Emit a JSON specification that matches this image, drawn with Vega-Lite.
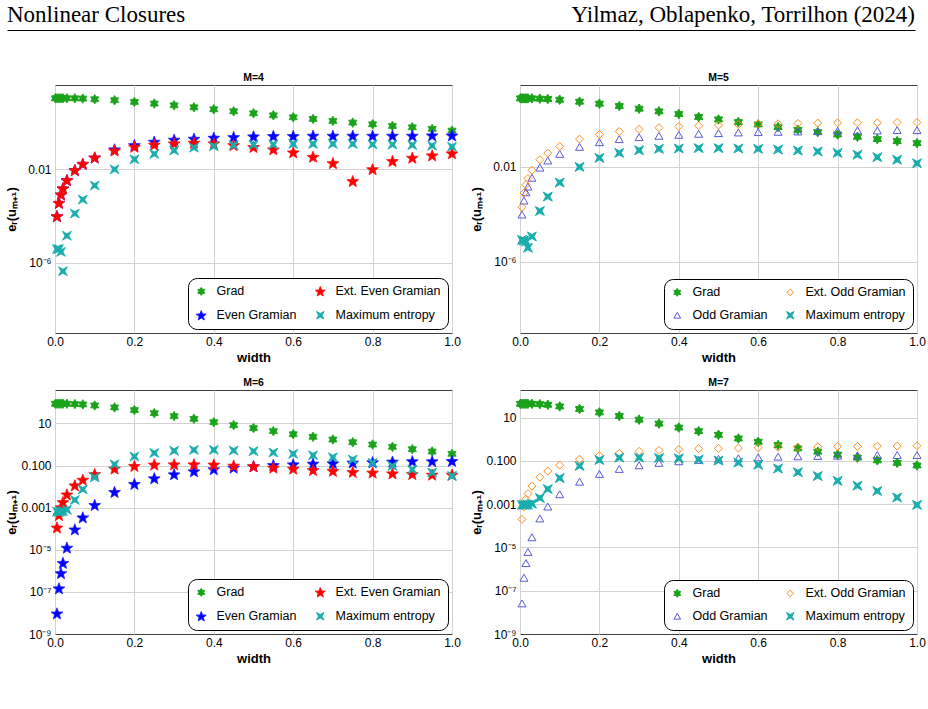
{
"$schema":"https://vega.github.io/schema/vega-lite/v6.json",
"padding":{"left":4,"top":4,"right":4,"bottom":4},
"config":{
 "font":"Liberation Sans",
 "view":{"stroke":"#404040","strokeWidth":1},
 "axis":{"labelFontSize":12,"labelColor":"black","titleFontWeight":"bold","titleFontSize":13,"titleColor":"black","domain":false,"gridColor":"#d2d2d2","ticks":false,"labelFlush":false,"labelOverlap":false},
 "title":{"fontSize":10.5,"fontWeight":"bold","color":"black","offset":2},
 "legend":{"orient":"bottom-right","direction":"horizontal","columns":2,"offset":4,"strokeColor":"black","cornerRadius":9,"padding":7,"fillColor":"white","rowPadding":10,"columnPadding":16,"labelFontSize":12.5,"labelColor":"black","symbolSize":45,"labelOffset":9,"symbolStrokeWidth":1}
},
"datasets":{
"m4":[
{"method":"Grad","w":0.001,"e":11.0},{"method":"Grad","w":0.005,"e":11.0},{"method":"Grad","w":0.01,"e":11.0},{"method":"Grad","w":0.015,"e":11.0},{"method":"Grad","w":0.02,"e":11.0},{"method":"Grad","w":0.03,"e":11.0},{"method":"Grad","w":0.05,"e":11.0},{"method":"Grad","w":0.07,"e":10.7},{"method":"Grad","w":0.1,"e":10.0},{"method":"Grad","w":0.15,"e":9.06},{"method":"Grad","w":0.2,"e":7.69},{"method":"Grad","w":0.25,"e":6.52},{"method":"Grad","w":0.3,"e":5.53},{"method":"Grad","w":0.35,"e":4.54},{"method":"Grad","w":0.4,"e":3.72},{"method":"Grad","w":0.45,"e":3.06},{"method":"Grad","w":0.5,"e":2.51},{"method":"Grad","w":0.55,"e":2.06},{"method":"Grad","w":0.6,"e":1.69},{"method":"Grad","w":0.65,"e":1.44},{"method":"Grad","w":0.7,"e":1.18},{"method":"Grad","w":0.75,"e":1.0},{"method":"Grad","w":0.8,"e":0.849},{"method":"Grad","w":0.85,"e":0.72},{"method":"Grad","w":0.9,"e":0.631},{"method":"Grad","w":0.95,"e":0.536},{"method":"Grad","w":1.0,"e":0.454},
{"method":"Even Gramian","w":0.005,"e":1.0e-4},{"method":"Even Gramian","w":0.01,"e":3.72e-4},{"method":"Even Gramian","w":0.015,"e":8.5e-4},{"method":"Even Gramian","w":0.02,"e":1.55e-3},{"method":"Even Gramian","w":0.03,"e":3.47e-3},{"method":"Even Gramian","w":0.05,"e":9.33e-3},{"method":"Even Gramian","w":0.07,"e":0.0174},{"method":"Even Gramian","w":0.1,"e":0.0324},{"method":"Even Gramian","w":0.15,"e":0.0719},{"method":"Even Gramian","w":0.2,"e":0.110},{"method":"Even Gramian","w":0.25,"e":0.153},{"method":"Even Gramian","w":0.3,"e":0.187},{"method":"Even Gramian","w":0.35,"e":0.206},{"method":"Even Gramian","w":0.4,"e":0.228},{"method":"Even Gramian","w":0.45,"e":0.243},{"method":"Even Gramian","w":0.5,"e":0.259},{"method":"Even Gramian","w":0.55,"e":0.269},{"method":"Even Gramian","w":0.6,"e":0.269},{"method":"Even Gramian","w":0.65,"e":0.277},{"method":"Even Gramian","w":0.7,"e":0.277},{"method":"Even Gramian","w":0.75,"e":0.277},{"method":"Even Gramian","w":0.8,"e":0.277},{"method":"Even Gramian","w":0.85,"e":0.277},{"method":"Even Gramian","w":0.9,"e":0.277},{"method":"Even Gramian","w":0.95,"e":0.286},{"method":"Even Gramian","w":1.0,"e":0.286},
{"method":"Ext. Even Gramian","w":0.005,"e":1.0e-4},{"method":"Ext. Even Gramian","w":0.01,"e":3.72e-4},{"method":"Ext. Even Gramian","w":0.015,"e":8.5e-4},{"method":"Ext. Even Gramian","w":0.02,"e":1.55e-3},{"method":"Ext. Even Gramian","w":0.03,"e":3.47e-3},{"method":"Ext. Even Gramian","w":0.05,"e":9.33e-3},{"method":"Ext. Even Gramian","w":0.07,"e":0.0174},{"method":"Ext. Even Gramian","w":0.1,"e":0.0324},{"method":"Ext. Even Gramian","w":0.15,"e":0.0646},{"method":"Ext. Even Gramian","w":0.2,"e":0.0933},{"method":"Ext. Even Gramian","w":0.25,"e":0.115},{"method":"Ext. Even Gramian","w":0.3,"e":0.130},{"method":"Ext. Even Gramian","w":0.35,"e":0.139},{"method":"Ext. Even Gramian","w":0.4,"e":0.130},{"method":"Ext. Even Gramian","w":0.45,"e":0.110},{"method":"Ext. Even Gramian","w":0.5,"e":0.0912},{"method":"Ext. Even Gramian","w":0.55,"e":0.0724},{"method":"Ext. Even Gramian","w":0.6,"e":0.0537},{"method":"Ext. Even Gramian","w":0.65,"e":0.0347},{"method":"Ext. Even Gramian","w":0.7,"e":0.0186},{"method":"Ext. Even Gramian","w":0.75,"e":0.00316},{"method":"Ext. Even Gramian","w":0.8,"e":0.0102},{"method":"Ext. Even Gramian","w":0.85,"e":0.0229},{"method":"Ext. Even Gramian","w":0.9,"e":0.0316},{"method":"Ext. Even Gramian","w":0.95,"e":0.0398},{"method":"Ext. Even Gramian","w":1.0,"e":0.049},
{"method":"Maximum entropy","w":0.005,"e":3.9e-6},{"method":"Maximum entropy","w":0.01,"e":3.9e-6},{"method":"Maximum entropy","w":0.015,"e":2.95e-6},{"method":"Maximum entropy","w":0.02,"e":4.4e-7},{"method":"Maximum entropy","w":0.03,"e":1.45e-5},{"method":"Maximum entropy","w":0.05,"e":1.29e-4},{"method":"Maximum entropy","w":0.07,"e":5.1e-4},{"method":"Maximum entropy","w":0.1,"e":2.04e-3},{"method":"Maximum entropy","w":0.15,"e":0.01},{"method":"Maximum entropy","w":0.2,"e":0.0269},{"method":"Maximum entropy","w":0.25,"e":0.0457},{"method":"Maximum entropy","w":0.3,"e":0.0646},{"method":"Maximum entropy","w":0.35,"e":0.0851},{"method":"Maximum entropy","w":0.4,"e":0.0977},{"method":"Maximum entropy","w":0.45,"e":0.107},{"method":"Maximum entropy","w":0.5,"e":0.115},{"method":"Maximum entropy","w":0.55,"e":0.117},{"method":"Maximum entropy","w":0.6,"e":0.123},{"method":"Maximum entropy","w":0.65,"e":0.123},{"method":"Maximum entropy","w":0.7,"e":0.123},{"method":"Maximum entropy","w":0.75,"e":0.123},{"method":"Maximum entropy","w":0.8,"e":0.117},{"method":"Maximum entropy","w":0.85,"e":0.115},{"method":"Maximum entropy","w":0.9,"e":0.110},{"method":"Maximum entropy","w":0.95,"e":0.103},{"method":"Maximum entropy","w":1.0,"e":0.0933}
],
"m5":[
{"method":"Grad","w":0.001,"e":7.71},{"method":"Grad","w":0.005,"e":7.71},{"method":"Grad","w":0.01,"e":7.71},{"method":"Grad","w":0.015,"e":7.71},{"method":"Grad","w":0.02,"e":7.71},{"method":"Grad","w":0.03,"e":7.71},{"method":"Grad","w":0.05,"e":7.46},{"method":"Grad","w":0.07,"e":7.24},{"method":"Grad","w":0.1,"e":6.76},{"method":"Grad","w":0.15,"e":5.57},{"method":"Grad","w":0.2,"e":4.59},{"method":"Grad","w":0.25,"e":3.66},{"method":"Grad","w":0.3,"e":2.82},{"method":"Grad","w":0.35,"e":2.18},{"method":"Grad","w":0.4,"e":1.68},{"method":"Grad","w":0.45,"e":1.26},{"method":"Grad","w":0.5,"e":1.0},{"method":"Grad","w":0.55,"e":0.771},{"method":"Grad","w":0.6,"e":0.615},{"method":"Grad","w":0.65,"e":0.474},{"method":"Grad","w":0.7,"e":0.366},{"method":"Grad","w":0.75,"e":0.292},{"method":"Grad","w":0.8,"e":0.232},{"method":"Grad","w":0.85,"e":0.185},{"method":"Grad","w":0.9,"e":0.148},{"method":"Grad","w":0.95,"e":0.122},{"method":"Grad","w":1.0,"e":0.1},
{"method":"Odd Gramian","w":0.005,"e":9.8e-5},{"method":"Odd Gramian","w":0.01,"e":3.8e-4},{"method":"Odd Gramian","w":0.015,"e":8.5e-4},{"method":"Odd Gramian","w":0.02,"e":1.48e-3},{"method":"Odd Gramian","w":0.03,"e":3.47e-3},{"method":"Odd Gramian","w":0.05,"e":9.33e-3},{"method":"Odd Gramian","w":0.07,"e":0.0186},{"method":"Odd Gramian","w":0.1,"e":0.0355},{"method":"Odd Gramian","w":0.15,"e":0.07},{"method":"Odd Gramian","w":0.2,"e":0.110},{"method":"Odd Gramian","w":0.25,"e":0.148},{"method":"Odd Gramian","w":0.3,"e":0.179},{"method":"Odd Gramian","w":0.35,"e":0.204},{"method":"Odd Gramian","w":0.4,"e":0.225},{"method":"Odd Gramian","w":0.45,"e":0.248},{"method":"Odd Gramian","w":0.5,"e":0.265},{"method":"Odd Gramian","w":0.55,"e":0.282},{"method":"Odd Gramian","w":0.6,"e":0.292},{"method":"Odd Gramian","w":0.65,"e":0.301},{"method":"Odd Gramian","w":0.7,"e":0.311},{"method":"Odd Gramian","w":0.75,"e":0.321},{"method":"Odd Gramian","w":0.8,"e":0.332},{"method":"Odd Gramian","w":0.85,"e":0.343},{"method":"Odd Gramian","w":0.9,"e":0.343},{"method":"Odd Gramian","w":0.95,"e":0.354},{"method":"Odd Gramian","w":1.0,"e":0.354},
{"method":"Ext. Odd Gramian","w":0.005,"e":2.0e-4},{"method":"Ext. Odd Gramian","w":0.01,"e":7.9e-4},{"method":"Ext. Odd Gramian","w":0.015,"e":1.78e-3},{"method":"Ext. Odd Gramian","w":0.02,"e":3.24e-3},{"method":"Ext. Odd Gramian","w":0.03,"e":7.24e-3},{"method":"Ext. Odd Gramian","w":0.05,"e":0.02},{"method":"Ext. Odd Gramian","w":0.07,"e":0.038},{"method":"Ext. Odd Gramian","w":0.1,"e":0.0724},{"method":"Ext. Odd Gramian","w":0.15,"e":0.148},{"method":"Ext. Odd Gramian","w":0.2,"e":0.232},{"method":"Ext. Odd Gramian","w":0.25,"e":0.311},{"method":"Ext. Odd Gramian","w":0.3,"e":0.38},{"method":"Ext. Odd Gramian","w":0.35,"e":0.447},{"method":"Ext. Odd Gramian","w":0.4,"e":0.506},{"method":"Ext. Odd Gramian","w":0.45,"e":0.54},{"method":"Ext. Odd Gramian","w":0.5,"e":0.575},{"method":"Ext. Odd Gramian","w":0.55,"e":0.615},{"method":"Ext. Odd Gramian","w":0.6,"e":0.635},{"method":"Ext. Odd Gramian","w":0.65,"e":0.656},{"method":"Ext. Odd Gramian","w":0.7,"e":0.678},{"method":"Ext. Odd Gramian","w":0.75,"e":0.7},{"method":"Ext. Odd Gramian","w":0.8,"e":0.723},{"method":"Ext. Odd Gramian","w":0.85,"e":0.723},{"method":"Ext. Odd Gramian","w":0.9,"e":0.723},{"method":"Ext. Odd Gramian","w":0.95,"e":0.746},{"method":"Ext. Odd Gramian","w":1.0,"e":0.746},
{"method":"Maximum entropy","w":0.005,"e":8.3e-6},{"method":"Maximum entropy","w":0.01,"e":7.9e-6},{"method":"Maximum entropy","w":0.015,"e":7.2e-6},{"method":"Maximum entropy","w":0.02,"e":3.9e-6},{"method":"Maximum entropy","w":0.03,"e":1.17e-5},{"method":"Maximum entropy","w":0.05,"e":1.38e-4},{"method":"Maximum entropy","w":0.07,"e":5.6e-4},{"method":"Maximum entropy","w":0.1,"e":2.19e-3},{"method":"Maximum entropy","w":0.15,"e":0.01},{"method":"Maximum entropy","w":0.2,"e":0.024},{"method":"Maximum entropy","w":0.25,"e":0.0389},{"method":"Maximum entropy","w":0.3,"e":0.0501},{"method":"Maximum entropy","w":0.35,"e":0.0575},{"method":"Maximum entropy","w":0.4,"e":0.0596},{"method":"Maximum entropy","w":0.45,"e":0.0617},{"method":"Maximum entropy","w":0.5,"e":0.0617},{"method":"Maximum entropy","w":0.55,"e":0.0596},{"method":"Maximum entropy","w":0.6,"e":0.0575},{"method":"Maximum entropy","w":0.65,"e":0.0537},{"method":"Maximum entropy","w":0.7,"e":0.049},{"method":"Maximum entropy","w":0.75,"e":0.0447},{"method":"Maximum entropy","w":0.8,"e":0.0389},{"method":"Maximum entropy","w":0.85,"e":0.0324},{"method":"Maximum entropy","w":0.9,"e":0.0257},{"method":"Maximum entropy","w":0.95,"e":0.02},{"method":"Maximum entropy","w":1.0,"e":0.0141}
],
"m6":[
{"method":"Grad","w":0.001,"e":86.5},{"method":"Grad","w":0.005,"e":86.5},{"method":"Grad","w":0.01,"e":86.5},{"method":"Grad","w":0.015,"e":86.5},{"method":"Grad","w":0.02,"e":86.5},{"method":"Grad","w":0.03,"e":86.5},{"method":"Grad","w":0.05,"e":83.2},{"method":"Grad","w":0.07,"e":80.4},{"method":"Grad","w":0.1,"e":71.9},{"method":"Grad","w":0.15,"e":57.8},{"method":"Grad","w":0.2,"e":43.2},{"method":"Grad","w":0.25,"e":30.9},{"method":"Grad","w":0.3,"e":22.4},{"method":"Grad","w":0.35,"e":16.6},{"method":"Grad","w":0.4,"e":11.5},{"method":"Grad","w":0.45,"e":8.32},{"method":"Grad","w":0.5,"e":6.03},{"method":"Grad","w":0.55,"e":4.32},{"method":"Grad","w":0.6,"e":3.09},{"method":"Grad","w":0.65,"e":2.32},{"method":"Grad","w":0.7,"e":1.73},{"method":"Grad","w":0.75,"e":1.29},{"method":"Grad","w":0.8,"e":1.0},{"method":"Grad","w":0.85,"e":0.774},{"method":"Grad","w":0.9,"e":0.6},{"method":"Grad","w":0.95,"e":0.465},{"method":"Grad","w":1.0,"e":0.36},
{"method":"Even Gramian","w":0.005,"e":9.5e-9},{"method":"Even Gramian","w":0.01,"e":1.48e-7},{"method":"Even Gramian","w":0.015,"e":7.8e-7},{"method":"Even Gramian","w":0.02,"e":2.4e-6},{"method":"Even Gramian","w":0.03,"e":1.26e-5},{"method":"Even Gramian","w":0.05,"e":9.3e-5},{"method":"Even Gramian","w":0.07,"e":3.47e-4},{"method":"Even Gramian","w":0.1,"e":1.35e-3},{"method":"Even Gramian","w":0.15,"e":5.6e-3},{"method":"Even Gramian","w":0.2,"e":0.0135},{"method":"Even Gramian","w":0.25,"e":0.0251},{"method":"Even Gramian","w":0.3,"e":0.0389},{"method":"Even Gramian","w":0.35,"e":0.0537},{"method":"Even Gramian","w":0.4,"e":0.0676},{"method":"Even Gramian","w":0.45,"e":0.0804},{"method":"Even Gramian","w":0.5,"e":0.0933},{"method":"Even Gramian","w":0.55,"e":0.107},{"method":"Even Gramian","w":0.6,"e":0.115},{"method":"Even Gramian","w":0.65,"e":0.124},{"method":"Even Gramian","w":0.7,"e":0.129},{"method":"Even Gramian","w":0.75,"e":0.139},{"method":"Even Gramian","w":0.8,"e":0.145},{"method":"Even Gramian","w":0.85,"e":0.155},{"method":"Even Gramian","w":0.9,"e":0.162},{"method":"Even Gramian","w":0.95,"e":0.162},{"method":"Even Gramian","w":1.0,"e":0.166},
{"method":"Ext. Even Gramian","w":0.005,"e":1.15e-4},{"method":"Ext. Even Gramian","w":0.01,"e":4.5e-4},{"method":"Ext. Even Gramian","w":0.015,"e":1.05e-3},{"method":"Ext. Even Gramian","w":0.02,"e":1.86e-3},{"method":"Ext. Even Gramian","w":0.03,"e":4.27e-3},{"method":"Ext. Even Gramian","w":0.05,"e":0.0115},{"method":"Ext. Even Gramian","w":0.07,"e":0.0214},{"method":"Ext. Even Gramian","w":0.1,"e":0.0398},{"method":"Ext. Even Gramian","w":0.15,"e":0.0724},{"method":"Ext. Even Gramian","w":0.2,"e":0.0964},{"method":"Ext. Even Gramian","w":0.25,"e":0.112},{"method":"Ext. Even Gramian","w":0.3,"e":0.115},{"method":"Ext. Even Gramian","w":0.35,"e":0.115},{"method":"Ext. Even Gramian","w":0.4,"e":0.112},{"method":"Ext. Even Gramian","w":0.45,"e":0.1},{"method":"Ext. Even Gramian","w":0.5,"e":0.0933},{"method":"Ext. Even Gramian","w":0.55,"e":0.0804},{"method":"Ext. Even Gramian","w":0.6,"e":0.0724},{"method":"Ext. Even Gramian","w":0.65,"e":0.0617},{"method":"Ext. Even Gramian","w":0.7,"e":0.0562},{"method":"Ext. Even Gramian","w":0.75,"e":0.0501},{"method":"Ext. Even Gramian","w":0.8,"e":0.0468},{"method":"Ext. Even Gramian","w":0.85,"e":0.0427},{"method":"Ext. Even Gramian","w":0.9,"e":0.0398},{"method":"Ext. Even Gramian","w":0.95,"e":0.0372},{"method":"Ext. Even Gramian","w":1.0,"e":0.0372},
{"method":"Maximum entropy","w":0.005,"e":6.5e-4},{"method":"Maximum entropy","w":0.01,"e":6.2e-4},{"method":"Maximum entropy","w":0.015,"e":6.5e-4},{"method":"Maximum entropy","w":0.02,"e":6.9e-4},{"method":"Maximum entropy","w":0.03,"e":7.9e-4},{"method":"Maximum entropy","w":0.05,"e":2.34e-3},{"method":"Maximum entropy","w":0.07,"e":7.4e-3},{"method":"Maximum entropy","w":0.1,"e":0.0275},{"method":"Maximum entropy","w":0.15,"e":0.115},{"method":"Maximum entropy","w":0.2,"e":0.269},{"method":"Maximum entropy","w":0.25,"e":0.398},{"method":"Maximum entropy","w":0.3,"e":0.501},{"method":"Maximum entropy","w":0.35,"e":0.557},{"method":"Maximum entropy","w":0.4,"e":0.557},{"method":"Maximum entropy","w":0.45,"e":0.518},{"method":"Maximum entropy","w":0.5,"e":0.482},{"method":"Maximum entropy","w":0.55,"e":0.417},{"method":"Maximum entropy","w":0.6,"e":0.36},{"method":"Maximum entropy","w":0.65,"e":0.31},{"method":"Maximum entropy","w":0.7,"e":0.249},{"method":"Maximum entropy","w":0.75,"e":0.193},{"method":"Maximum entropy","w":0.8,"e":0.135},{"method":"Maximum entropy","w":0.85,"e":0.0964},{"method":"Maximum entropy","w":0.9,"e":0.0646},{"method":"Maximum entropy","w":0.95,"e":0.0468},{"method":"Maximum entropy","w":1.0,"e":0.0324}
],
"m7":[
{"method":"Grad","w":0.001,"e":43.7},{"method":"Grad","w":0.005,"e":43.7},{"method":"Grad","w":0.01,"e":43.7},{"method":"Grad","w":0.015,"e":43.7},{"method":"Grad","w":0.02,"e":43.7},{"method":"Grad","w":0.03,"e":43.7},{"method":"Grad","w":0.05,"e":42.2},{"method":"Grad","w":0.07,"e":39.4},{"method":"Grad","w":0.1,"e":33.1},{"method":"Grad","w":0.15,"e":25.1},{"method":"Grad","w":0.2,"e":17.5},{"method":"Grad","w":0.25,"e":11.9},{"method":"Grad","w":0.3,"e":8.09},{"method":"Grad","w":0.35,"e":5.31},{"method":"Grad","w":0.4,"e":3.48},{"method":"Grad","w":0.45,"e":2.37},{"method":"Grad","w":0.5,"e":1.61},{"method":"Grad","w":0.55,"e":1.09},{"method":"Grad","w":0.6,"e":0.767},{"method":"Grad","w":0.65,"e":0.541},{"method":"Grad","w":0.7,"e":0.38},{"method":"Grad","w":0.75,"e":0.267},{"method":"Grad","w":0.8,"e":0.195},{"method":"Grad","w":0.85,"e":0.142},{"method":"Grad","w":0.9,"e":0.107},{"method":"Grad","w":0.95,"e":0.0813},{"method":"Grad","w":1.0,"e":0.0617},
{"method":"Odd Gramian","w":0.005,"e":2.6e-8},{"method":"Odd Gramian","w":0.01,"e":4.0e-7},{"method":"Odd Gramian","w":0.015,"e":1.9e-6},{"method":"Odd Gramian","w":0.02,"e":6.2e-6},{"method":"Odd Gramian","w":0.03,"e":2.95e-5},{"method":"Odd Gramian","w":0.05,"e":2.19e-4},{"method":"Odd Gramian","w":0.07,"e":7.8e-4},{"method":"Odd Gramian","w":0.1,"e":2.88e-3},{"method":"Odd Gramian","w":0.15,"e":0.011},{"method":"Odd Gramian","w":0.2,"e":0.0251},{"method":"Odd Gramian","w":0.25,"e":0.0427},{"method":"Odd Gramian","w":0.3,"e":0.0631},{"method":"Odd Gramian","w":0.35,"e":0.0813},{"method":"Odd Gramian","w":0.4,"e":0.0966},{"method":"Odd Gramian","w":0.45,"e":0.111},{"method":"Odd Gramian","w":0.5,"e":0.124},{"method":"Odd Gramian","w":0.55,"e":0.132},{"method":"Odd Gramian","w":0.6,"e":0.147},{"method":"Odd Gramian","w":0.65,"e":0.158},{"method":"Odd Gramian","w":0.7,"e":0.164},{"method":"Odd Gramian","w":0.75,"e":0.17},{"method":"Odd Gramian","w":0.8,"e":0.175},{"method":"Odd Gramian","w":0.85,"e":0.182},{"method":"Odd Gramian","w":0.9,"e":0.188},{"method":"Odd Gramian","w":0.95,"e":0.188},{"method":"Odd Gramian","w":1.0,"e":0.188},
{"method":"Ext. Odd Gramian","w":0.005,"e":2.0e-4},{"method":"Ext. Odd Gramian","w":0.01,"e":7.6e-4},{"method":"Ext. Odd Gramian","w":0.015,"e":1.7e-3},{"method":"Ext. Odd Gramian","w":0.02,"e":3.09e-3},{"method":"Ext. Odd Gramian","w":0.03,"e":6.9e-3},{"method":"Ext. Odd Gramian","w":0.05,"e":0.0178},{"method":"Ext. Odd Gramian","w":0.07,"e":0.0339},{"method":"Ext. Odd Gramian","w":0.1,"e":0.0631},{"method":"Ext. Odd Gramian","w":0.15,"e":0.12},{"method":"Ext. Odd Gramian","w":0.2,"e":0.175},{"method":"Ext. Odd Gramian","w":0.25,"e":0.224},{"method":"Ext. Odd Gramian","w":0.3,"e":0.277},{"method":"Ext. Odd Gramian","w":0.35,"e":0.309},{"method":"Ext. Odd Gramian","w":0.4,"e":0.342},{"method":"Ext. Odd Gramian","w":0.45,"e":0.367},{"method":"Ext. Odd Gramian","w":0.5,"e":0.38},{"method":"Ext. Odd Gramian","w":0.55,"e":0.394},{"method":"Ext. Odd Gramian","w":0.6,"e":0.407},{"method":"Ext. Odd Gramian","w":0.65,"e":0.422},{"method":"Ext. Odd Gramian","w":0.7,"e":0.437},{"method":"Ext. Odd Gramian","w":0.75,"e":0.453},{"method":"Ext. Odd Gramian","w":0.8,"e":0.468},{"method":"Ext. Odd Gramian","w":0.85,"e":0.468},{"method":"Ext. Odd Gramian","w":0.9,"e":0.486},{"method":"Ext. Odd Gramian","w":0.95,"e":0.486},{"method":"Ext. Odd Gramian","w":1.0,"e":0.501},
{"method":"Maximum entropy","w":0.005,"e":9.3e-4},{"method":"Maximum entropy","w":0.01,"e":9.3e-4},{"method":"Maximum entropy","w":0.015,"e":9.3e-4},{"method":"Maximum entropy","w":0.02,"e":9.5e-4},{"method":"Maximum entropy","w":0.03,"e":1.05e-3},{"method":"Maximum entropy","w":0.05,"e":1.95e-3},{"method":"Maximum entropy","w":0.07,"e":5.0e-3},{"method":"Maximum entropy","w":0.1,"e":0.0162},{"method":"Maximum entropy","w":0.15,"e":0.0589},{"method":"Maximum entropy","w":0.2,"e":0.111},{"method":"Maximum entropy","w":0.25,"e":0.142},{"method":"Maximum entropy","w":0.3,"e":0.142},{"method":"Maximum entropy","w":0.35,"e":0.138},{"method":"Maximum entropy","w":0.4,"e":0.132},{"method":"Maximum entropy","w":0.45,"e":0.115},{"method":"Maximum entropy","w":0.5,"e":0.104},{"method":"Maximum entropy","w":0.55,"e":0.0839},{"method":"Maximum entropy","w":0.6,"e":0.0661},{"method":"Maximum entropy","w":0.65,"e":0.0447},{"method":"Maximum entropy","w":0.7,"e":0.0302},{"method":"Maximum entropy","w":0.75,"e":0.02},{"method":"Maximum entropy","w":0.8,"e":0.012},{"method":"Maximum entropy","w":0.85,"e":7.2e-3},{"method":"Maximum entropy","w":0.9,"e":4.07e-3},{"method":"Maximum entropy","w":0.95,"e":2.04e-3},{"method":"Maximum entropy","w":1.0,"e":9.3e-4}
]
},
"resolve":{"scale":{"fill":"independent","stroke":"independent","shape":"independent"}},
"spacing":42,
"vconcat":[
{
 "width":860,"height":16,
 "view":{"stroke":null},
 "data":{"values":[{"pos":0,"label":"Nonlinear Closures"},{"pos":1,"label":"Yilmaz, Oblapenko, Torrilhon (2024)"}]},
 "encoding":{"x":{"field":"pos","type":"quantitative","scale":{"domain":[0,1],"range":[-48,860],"nice":false},"axis":{"title":null,"labels":false,"grid":false,"domain":true,"domainColor":"black","domainWidth":1.2}},"text":{"field":"label"}},
 "layer":[
  {"transform":[{"filter":"datum.pos == 0"}],"mark":{"type":"text","align":"left","baseline":"alphabetic","font":"Liberation Serif","fontSize":23,"color":"black"}},
  {"transform":[{"filter":"datum.pos == 1"}],"mark":{"type":"text","align":"right","baseline":"alphabetic","font":"Liberation Serif","fontSize":23,"color":"black"}}
 ]
},
{
 "spacing":12,
 "resolve":{"scale":{"fill":"independent","stroke":"independent","shape":"independent"}},
 "vconcat":[
 {
  "spacing":8,
  "resolve":{"scale":{"fill":"independent","stroke":"independent","shape":"independent"}},
  "hconcat":[
  {
   "title":"M=4","width":397,"height":248,
   "data":{"name":"m4"},
   "mark":{"type":"point","filled":true,"size":64,"strokeWidth":0.8,"opacity":1},
   "encoding":{
    "x":{"field":"w","type":"quantitative","scale":{"domain":[0,1],"nice":false},"axis":{"title":"width","values":[0,0.2,0.4,0.6,0.8,1],"format":".1f","grid":true,"labelPadding":3,"titlePadding":4}},
    "y":{"field":"e","type":"quantitative","scale":{"type":"log","domain":[1e-9,40.7],"nice":false},"axis":{"title":"eᵣ(uₘ₊₁)","values":[1e-9,1e-8,1e-7,1e-6,1e-5,1e-4,0.001,0.01,0.1,1,10],"labelExpr":"datum.value == 0.01 ? '0.01' : (datum.value == 1e-6 ? '10⁻⁶' : '')","grid":true,"gridOpacity":{"condition":{"test":"datum.value == 0.01 || datum.value == 1e-6","value":1},"value":0},"labelPadding":4,"titlePadding":4,"minExtent":33,"maxExtent":33}},
    "fill":{"field":"method","type":"nominal","title":null,"scale":{"domain":["Grad","Ext. Even Gramian","Even Gramian","Maximum entropy"],"range":["#1aa31a","#ff0000","#0000ff","#1aadad"]}},
    "stroke":{"field":"method","type":"nominal","title":null,"scale":{"domain":["Grad","Ext. Even Gramian","Even Gramian","Maximum entropy"],"range":["#1aa31a","#ff1010","#2020ff","#1aadad"]}},
    "shape":{"field":"method","type":"nominal","title":null,"scale":{"domain":["Grad","Ext. Even Gramian","Even Gramian","Maximum entropy"],"range":["M0,-1.19L0.357,-0.618L1.03,-0.595L0.714,0L1.03,0.595L0.357,0.618L0,1.19L-0.357,0.618L-1.03,0.595L-0.714,0L-1.03,-0.595L-0.357,-0.618Z","M0,-1.402L0.383,-0.379L1.474,-0.331L0.62,0.349L0.911,1.402L0,0.799L-0.911,1.402L-0.62,0.349L-1.474,-0.331L-0.383,-0.379Z","M0,-1.402L0.383,-0.379L1.474,-0.331L0.62,0.349L0.911,1.402L0,0.799L-0.911,1.402L-0.62,0.349L-1.474,-0.331L-0.383,-0.379Z","M-1.12,-1.12L0,-0.5L1.12,-1.12L0.5,0L1.12,1.12L0,0.5L-1.12,1.12L-0.5,0Z"]}}
   }
  },
  {
   "title":"M=5","width":397,"height":248,
   "data":{"name":"m5"},
   "mark":{"type":"point","filled":true,"size":64,"strokeWidth":1,"opacity":1},
   "encoding":{
    "x":{"field":"w","type":"quantitative","scale":{"domain":[0,1],"nice":false},"axis":{"title":"width","values":[0,0.2,0.4,0.6,0.8,1],"format":".1f","grid":true,"labelPadding":3,"titlePadding":4}},
    "y":{"field":"e","type":"quantitative","scale":{"type":"log","domain":[1e-9,28.2],"nice":false},"axis":{"title":"eᵣ(uₘ₊₁)","values":[1e-9,1e-8,1e-7,1e-6,1e-5,1e-4,0.001,0.01,0.1,1,10],"labelExpr":"datum.value == 0.01 ? '0.01' : (datum.value == 1e-6 ? '10⁻⁶' : '')","grid":true,"gridOpacity":{"condition":{"test":"datum.value == 0.01 || datum.value == 1e-6","value":1},"value":0},"labelPadding":4,"titlePadding":4,"minExtent":33,"maxExtent":33}},
    "fill":{"field":"method","type":"nominal","title":null,"scale":{"domain":["Grad","Ext. Odd Gramian","Odd Gramian","Maximum entropy"],"range":["#1aa31a","transparent","transparent","#1aadad"]}},
    "stroke":{"field":"method","type":"nominal","title":null,"scale":{"domain":["Grad","Ext. Odd Gramian","Odd Gramian","Maximum entropy"],"range":["#1aa31a","#ff8c1a","#5a5ad8","#1aadad"]}},
    "shape":{"field":"method","type":"nominal","title":null,"scale":{"domain":["Grad","Ext. Odd Gramian","Odd Gramian","Maximum entropy"],"range":["M0,-1.19L0.357,-0.618L1.03,-0.595L0.714,0L1.03,0.595L0.357,0.618L0,1.19L-0.357,0.618L-1.03,0.595L-0.714,0L-1.03,-0.595L-0.357,-0.618Z","diamond","triangle-up","M-1.12,-1.12L0,-0.5L1.12,-1.12L0.5,0L1.12,1.12L0,0.5L-1.12,1.12L-0.5,0Z"]}}
   }
  }
  ]
 },
 {
  "spacing":8,
  "resolve":{"scale":{"fill":"independent","stroke":"independent","shape":"independent"}},
  "hconcat":[
  {
   "title":"M=6","width":397,"height":244,
   "data":{"name":"m6"},
   "mark":{"type":"point","filled":true,"size":64,"strokeWidth":0.8,"opacity":1},
   "encoding":{
    "x":{"field":"w","type":"quantitative","scale":{"domain":[0,1],"nice":false},"axis":{"title":"width","values":[0,0.2,0.4,0.6,0.8,1],"format":".1f","grid":true,"labelPadding":3,"titlePadding":4}},
    "y":{"field":"e","type":"quantitative","scale":{"type":"log","domain":[1e-9,389],"nice":false},"axis":{"title":"eᵣ(uₘ₊₁)","values":[1e-9,1e-8,1e-7,1e-6,1e-5,1e-4,0.001,0.01,0.1,1,10,100],"labelExpr":"datum.value == 10 ? '10' : datum.value == 0.1 ? '0.100' : datum.value == 0.001 ? '0.001' : datum.value == 1e-5 ? '10⁻⁵' : datum.value == 1e-7 ? '10⁻⁷' : datum.value == 1e-9 ? '10⁻⁹' : ''","grid":true,"gridOpacity":{"condition":{"test":"datum.value == 10 || datum.value == 0.1 || datum.value == 0.001 || datum.value == 1e-5 || datum.value == 1e-7","value":1},"value":0},"labelPadding":4,"titlePadding":4,"minExtent":33,"maxExtent":33}},
    "fill":{"field":"method","type":"nominal","title":null,"scale":{"domain":["Grad","Ext. Even Gramian","Even Gramian","Maximum entropy"],"range":["#1aa31a","#ff0000","#0000ff","#1aadad"]}},
    "stroke":{"field":"method","type":"nominal","title":null,"scale":{"domain":["Grad","Ext. Even Gramian","Even Gramian","Maximum entropy"],"range":["#1aa31a","#ff1010","#2020ff","#1aadad"]}},
    "shape":{"field":"method","type":"nominal","title":null,"scale":{"domain":["Grad","Ext. Even Gramian","Even Gramian","Maximum entropy"],"range":["M0,-1.19L0.357,-0.618L1.03,-0.595L0.714,0L1.03,0.595L0.357,0.618L0,1.19L-0.357,0.618L-1.03,0.595L-0.714,0L-1.03,-0.595L-0.357,-0.618Z","M0,-1.402L0.383,-0.379L1.474,-0.331L0.62,0.349L0.911,1.402L0,0.799L-0.911,1.402L-0.62,0.349L-1.474,-0.331L-0.383,-0.379Z","M0,-1.402L0.383,-0.379L1.474,-0.331L0.62,0.349L0.911,1.402L0,0.799L-0.911,1.402L-0.62,0.349L-1.474,-0.331L-0.383,-0.379Z","M-1.12,-1.12L0,-0.5L1.12,-1.12L0.5,0L1.12,1.12L0,0.5L-1.12,1.12L-0.5,0Z"]}}
   }
  },
  {
   "title":"M=7","width":397,"height":244,
   "data":{"name":"m7"},
   "mark":{"type":"point","filled":true,"size":64,"strokeWidth":1,"opacity":1},
   "encoding":{
    "x":{"field":"w","type":"quantitative","scale":{"domain":[0,1],"nice":false},"axis":{"title":"width","values":[0,0.2,0.4,0.6,0.8,1],"format":".1f","grid":true,"labelPadding":3,"titlePadding":4}},
    "y":{"field":"e","type":"quantitative","scale":{"type":"log","domain":[1e-9,190],"nice":false},"axis":{"title":"eᵣ(uₘ₊₁)","values":[1e-9,1e-8,1e-7,1e-6,1e-5,1e-4,0.001,0.01,0.1,1,10,100],"labelExpr":"datum.value == 10 ? '10' : datum.value == 0.1 ? '0.100' : datum.value == 0.001 ? '0.001' : datum.value == 1e-5 ? '10⁻⁵' : datum.value == 1e-7 ? '10⁻⁷' : datum.value == 1e-9 ? '10⁻⁹' : ''","grid":true,"gridOpacity":{"condition":{"test":"datum.value == 10 || datum.value == 0.1 || datum.value == 0.001 || datum.value == 1e-5 || datum.value == 1e-7","value":1},"value":0},"labelPadding":4,"titlePadding":4,"minExtent":33,"maxExtent":33}},
    "fill":{"field":"method","type":"nominal","title":null,"scale":{"domain":["Grad","Ext. Odd Gramian","Odd Gramian","Maximum entropy"],"range":["#1aa31a","transparent","transparent","#1aadad"]}},
    "stroke":{"field":"method","type":"nominal","title":null,"scale":{"domain":["Grad","Ext. Odd Gramian","Odd Gramian","Maximum entropy"],"range":["#1aa31a","#ff8c1a","#5a5ad8","#1aadad"]}},
    "shape":{"field":"method","type":"nominal","title":null,"scale":{"domain":["Grad","Ext. Odd Gramian","Odd Gramian","Maximum entropy"],"range":["M0,-1.19L0.357,-0.618L1.03,-0.595L0.714,0L1.03,0.595L0.357,0.618L0,1.19L-0.357,0.618L-1.03,0.595L-0.714,0L-1.03,-0.595L-0.357,-0.618Z","diamond","triangle-up","M-1.12,-1.12L0,-0.5L1.12,-1.12L0.5,0L1.12,1.12L0,0.5L-1.12,1.12L-0.5,0Z"]}}
   }
  }
  ]
 }
 ]
}
]
}
